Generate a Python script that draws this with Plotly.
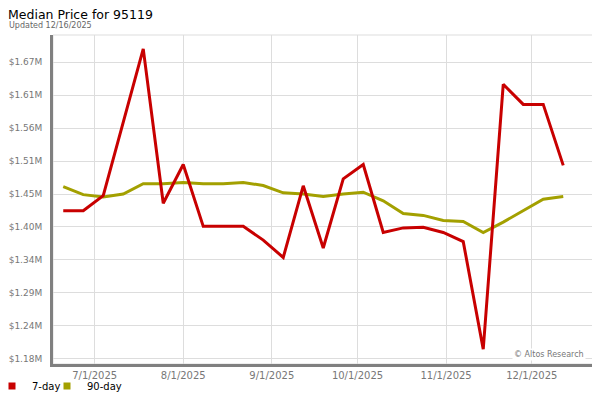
import plotly.graph_objects as go

# weekly sample dates
dates = [
    "2025-06-20", "2025-06-27", "2025-07-04", "2025-07-11", "2025-07-18", "2025-07-25",
    "2025-08-01", "2025-08-08", "2025-08-15", "2025-08-22", "2025-08-29", "2025-09-05",
    "2025-09-12", "2025-09-19", "2025-09-26", "2025-10-03", "2025-10-10", "2025-10-17",
    "2025-10-24", "2025-10-31", "2025-11-07", "2025-11-14", "2025-11-21", "2025-11-28",
    "2025-12-05", "2025-12-12",
]
seven_day = [
    1424500, 1424500, 1449500, 1572000, 1690000, 1437000,
    1500500, 1399000, 1399000, 1399000, 1376500, 1348000,
    1465500, 1363500, 1477000, 1500500, 1389000, 1396500,
    1397500, 1389000, 1374000, 1197500, 1632000, 1599000,
    1599000, 1499000,
]
ninety_day = [
    1464000, 1451000, 1447000, 1452000, 1469000, 1469000,
    1471000, 1469000, 1469000, 1471000, 1466000, 1454000,
    1452000, 1448000, 1452000, 1455000, 1441000, 1420000,
    1417000, 1408500, 1407000, 1389000, 1406000, 1425000,
    1443500, 1448000,
]

x_tick_vals = ["2025-07-01", "2025-08-01", "2025-09-01", "2025-10-01", "2025-11-01", "2025-12-01"]
x_tick_text = ["7/1/2025", "8/1/2025", "9/1/2025", "10/1/2025", "11/1/2025", "12/1/2025"]
y_tick_vals = [1182000, 1236000, 1290000, 1344000, 1398000, 1452000, 1506000, 1560000, 1614000, 1668000]
y_tick_text = ["$1.18M", "$1.24M", "$1.29M", "$1.34M", "$1.40M", "$1.45M", "$1.51M", "$1.56M", "$1.61M", "$1.67M"]

RED = "#C80000"
OLIVE = "#A3A000"
FONT = "DejaVu Sans"

# the page body adds an 8px margin, so the figure is 8px smaller than the window
W, H = 592, 392
PLOT_W, PLOT_H = 540, 329

fig = go.Figure()
fig.add_trace(go.Scatter(x=dates, y=ninety_day, mode="lines", name="90-day",
                         line=dict(color=OLIVE, width=3), showlegend=False))
fig.add_trace(go.Scatter(x=dates, y=seven_day, mode="lines", name="7-day",
                         line=dict(color=RED, width=3), showlegend=False))
# legend entries drawn as small squares, one legend each so they sit close together
fig.add_trace(go.Scatter(x=[None], y=[None], mode="markers", name="7-day",
                         marker=dict(symbol="square", size=7, color=RED), legend="legend"))
fig.add_trace(go.Scatter(x=[None], y=[None], mode="markers", name="90-day",
                         marker=dict(symbol="square", size=7, color=OLIVE), legend="legend2"))

fig.add_annotation(text="Updated 12/16/2025", xref="paper", yref="paper",
                   x=-46 / PLOT_W, y=1 + 9 / PLOT_H, xanchor="left", yanchor="middle",
                   showarrow=False, font=dict(family=FONT, size=8, color="#666666"))
fig.add_annotation(text="© Altos Research", xref="paper", yref="paper",
                   x=0.987, y=0.03, xanchor="right", yanchor="middle",
                   showarrow=False, bgcolor="white",
                   font=dict(family=FONT, size=8, color="#777777"))
fig.add_shape(type="rect", xref="paper", yref="paper", x0=0, x1=1, y0=0, y1=1,
              line=dict(color="#dddddd", width=1), layer="below")

fig.update_xaxes(
    type="date", range=["2025-06-16 10:00", "2025-12-22 10:00"],
    tickvals=x_tick_vals, ticktext=x_tick_text,
    showgrid=True, gridcolor="#dddddd", gridwidth=1,
    showline=True, linecolor="#808080", linewidth=3,
    ticks="", tickfont=dict(family=FONT, size=10, color="#777777"),
    zeroline=False, automargin=False,
)
fig.update_yaxes(
    range=[1173300, 1712800],
    tickvals=y_tick_vals, ticktext=y_tick_text,
    showgrid=True, gridcolor="#dddddd", gridwidth=1,
    showline=True, linecolor="#808080", linewidth=3,
    ticks="", ticklabelstandoff=6,
    tickfont=dict(family=FONT, size=9, color="#777777"),
    zeroline=False, automargin=False,
)
legend_style = dict(orientation="h", xref="paper", yref="paper",
                    y=-22 / PLOT_H, xanchor="left", yanchor="middle",
                    font=dict(family=FONT, size=10, color="#000000"),
                    itemwidth=30, bgcolor="rgba(0,0,0,0)")
fig.update_layout(
    title=dict(text="Median Price for 95119", x=0, xanchor="left",
               y=1 - 6.5 / H, yanchor="middle",
               font=dict(family=FONT, size=12.5, color="#000000")),
    width=W, height=H,
    margin=dict(l=45, r=7, t=27, b=36, autoexpand=False),
    paper_bgcolor="white", plot_bgcolor="white",
    showlegend=True,
    legend=dict(legend_style, x=-61 / PLOT_W),
    legend2=dict(legend_style, x=-6 / PLOT_W),
    hovermode="x unified",
)

fig.write_html("out.html")
